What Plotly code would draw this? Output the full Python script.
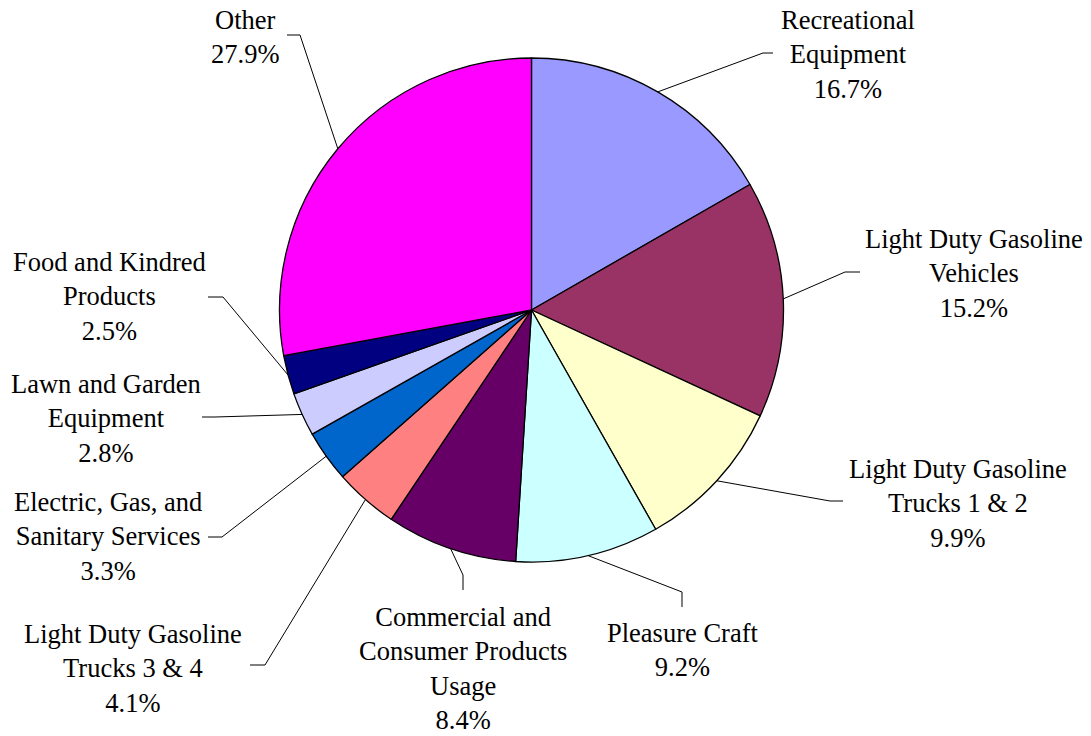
import math
import plotly.graph_objects as go

# ---- data ----
categories = [
    "Recreational<br>Equipment",
    "Light Duty Gasoline<br>Vehicles",
    "Light Duty Gasoline<br>Trucks 1 & 2",
    "Pleasure Craft",
    "Commercial and<br>Consumer Products<br>Usage",
    "Light Duty Gasoline<br>Trucks 3 & 4",
    "Electric, Gas, and<br>Sanitary Services",
    "Lawn and Garden<br>Equipment",
    "Food and Kindred<br>Products",
    "Other",
]
shares = [16.7, 15.2, 9.9, 9.2, 8.4, 4.1, 3.3, 2.8, 2.5, 27.9]
colors = ["#9999FF", "#993366", "#FFFFCC", "#CCFFFF", "#660066",
          "#FF8080", "#0066CC", "#CCCCFF", "#000080", "#FF00FF"]

# ---- layout (pixel geometry) ----
W, H = 1091, 736
CX, CY, R = 531.5, 310.0, 252.0
label_pos = [(848, 55), (974, 274), (958, 503), (682, 650), (463, 668),
             (133, 668), (108, 536), (106, 418), (109, 297), (245, 37.5)]
leader_elbow = [(763, 53), (845, 272), (830, 501), (682, 592), (463, 575),
                (265, 665), (222, 537), (215, 417), (223, 297), (300, 35)]
leader_end = [(773, 53), (860, 272), (843, 501), (682, 607), (463, 590),
              (250, 665), (208, 537), (202, 417), (208, 297), (287, 35)]
FONT = "Liberation Serif, Times New Roman, serif"
FS = 26.5

def px(x):
    return x / W

def py(y):
    return 1 - y / H

fig = go.Figure(go.Pie(
    labels=[c.replace("<br>", " ") for c in categories],
    values=shares,
    sort=False,
    direction="clockwise",
    rotation=0,
    marker=dict(colors=colors, line=dict(color="black", width=1.3)),
    textinfo="none",
    hoverinfo="label+percent",
    showlegend=False,
    domain=dict(x=[px(CX - R), px(CX + R)], y=[py(CY + R), py(CY - R)]),
))

total = sum(shares)
cum = 0.0
shapes = []
annotations = []
for i, (cat, v) in enumerate(zip(categories, shares)):
    mid = (cum + v / 2) / total * 2 * math.pi
    cum += v
    sx = CX + R * math.sin(mid)
    sy = CY - R * math.cos(mid)
    ex, ey = leader_elbow[i]
    fx, fy = leader_end[i]
    path = f"M {px(sx)},{py(sy)} L {px(ex)},{py(ey)} L {px(fx)},{py(fy)}"
    shapes.append(dict(type="path", xref="paper", yref="paper", path=path,
                       line=dict(color="black", width=1)))
    lx, ly = label_pos[i]
    annotations.append(dict(
        x=px(lx), y=py(ly), xref="paper", yref="paper",
        text=f"{cat}<br>{v:.1f}%", showarrow=False,
        xanchor="center", yanchor="middle", align="center",
        font=dict(family=FONT, size=FS, color="black"),
    ))

fig.update_layout(
    width=W, height=H,
    margin=dict(l=0, r=0, t=0, b=0),
    paper_bgcolor="white", plot_bgcolor="white",
    shapes=shapes, annotations=annotations,
)

fig.write_html("out.html")
